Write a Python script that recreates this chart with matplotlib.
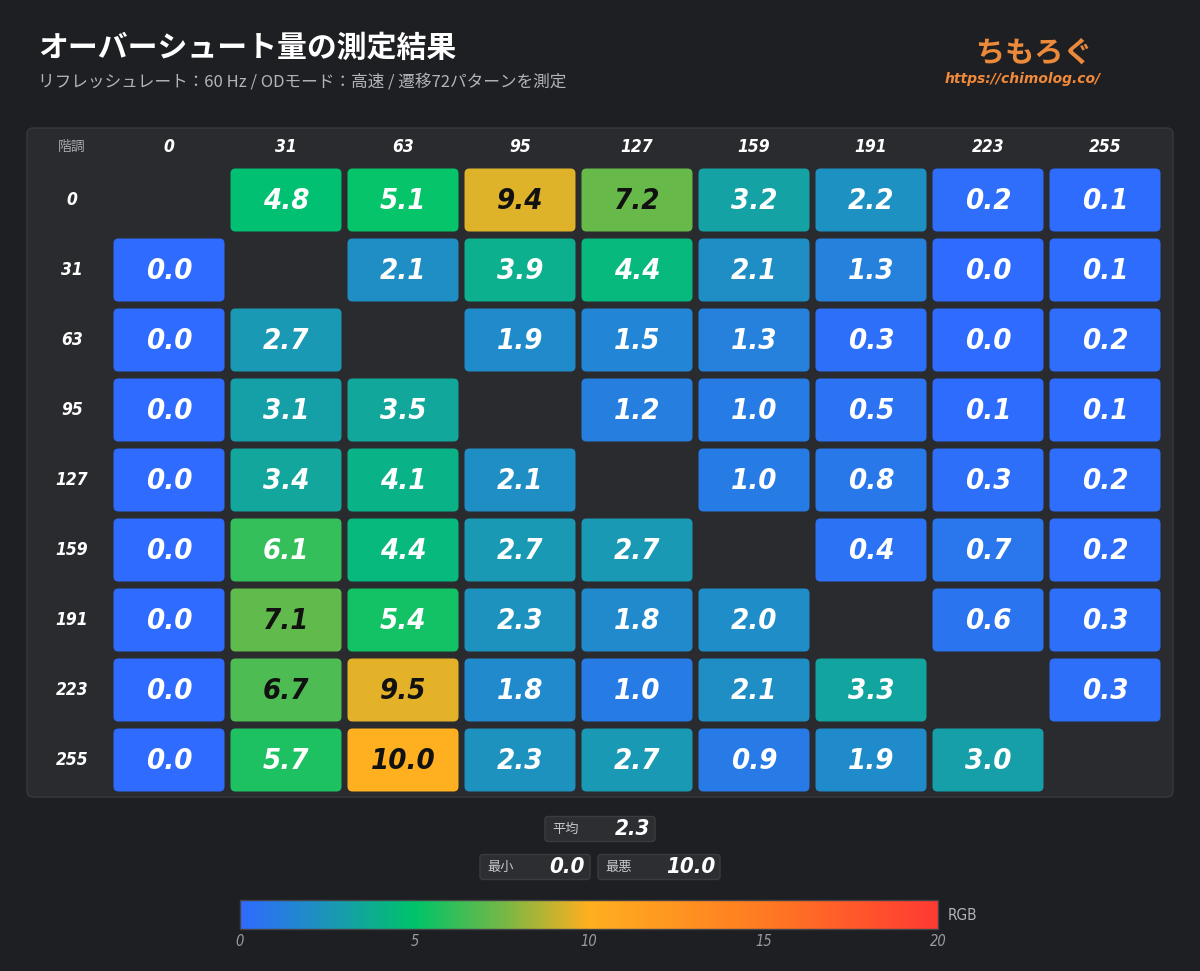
import matplotlib
matplotlib.use("Agg")
import matplotlib.pyplot as plt
import numpy as np
from matplotlib import font_manager
from matplotlib.colors import LinearSegmentedColormap
from matplotlib.patches import FancyBboxPatch, Rectangle

# ── Data ─────────────────────────────────────────────────────────────────────
levels = [0, 31, 63, 95, 127, 159, 191, 223, 255]
nan = np.nan
overshoot = np.array([
    [nan, 4.8, 5.1, 9.4, 7.2, 3.2, 2.2, 0.2, 0.1],
    [0.0, nan, 2.1, 3.9, 4.4, 2.1, 1.3, 0.0, 0.1],
    [0.0, 2.7, nan, 1.9, 1.5, 1.3, 0.3, 0.0, 0.2],
    [0.0, 3.1, 3.5, nan, 1.2, 1.0, 0.5, 0.1, 0.1],
    [0.0, 3.4, 4.1, 2.1, nan, 1.0, 0.8, 0.3, 0.2],
    [0.0, 6.1, 4.4, 2.7, 2.7, nan, 0.4, 0.7, 0.2],
    [0.0, 7.1, 5.4, 2.3, 1.8, 2.0, nan, 0.6, 0.3],
    [0.0, 6.7, 9.5, 1.8, 1.0, 2.1, 3.3, nan, 0.3],
    [0.0, 5.7, 10.0, 2.3, 2.7, 0.9, 1.9, 3.0, nan],
])
cbar_ticks = [0, 5, 10, 15, 20]
vmax = 20

title = "オーバーシュート量の測定結果"
subtitle = "リフレッシュレート：60 Hz / ODモード：高速 / 遷移72パターンを測定"

# ── Fonts / colours ──────────────────────────────────────────────────────────
# look for any condensed face for the numbers, else plain DejaVu
narrow = [f for f in font_manager.fontManager.ttflist
          if str(f.stretch) in ("condensed", "semi-condensed", "extra-condensed")
          or "Condensed" in f.name or "Narrow" in f.name]
NUM = narrow[0].name if narrow else "DejaVu Sans"
NUMKW = dict(family=NUM, fontstretch="condensed")
JP = ["Noto Sans CJK JP", "DejaVu Sans"]
plt.rcParams["font.family"] = JP

BG = "#1e1f23"
PANEL = "#2a2b2f"
cmap = LinearSegmentedColormap.from_list("os", [
    (0.0, "#2f6bff"), (0.125, "#1b96b8"), (0.25, "#00c46a"),
    (0.375, "#74b846"), (0.5, "#ffb020"), (0.75, "#ff7a22"), (1.0, "#ff3a33")])

fig = plt.figure(figsize=(12, 9.71), dpi=100, facecolor=BG)
ax = fig.add_axes([0, 0, 1, 1])
ax.set_xlim(0, 1200)
ax.set_ylim(971, 0)
ax.axis("off")

# ── Title ────────────────────────────────────────────────────────────────────
ax.text(38, 48, title, fontsize=21.5, fontweight="bold", color="white", va="center")
ax.text(38, 82, subtitle, fontsize=12, color="#b4b4b8", va="center")
ax.text(1034, 53, "ちもろぐ", fontsize=21, fontweight="bold", color="#ec8a3c",
        ha="center", va="center")
ax.text(1023, 79, "https://chimolog.co/", fontsize=10, fontweight="bold",
        style="italic", color="#f0893a", ha="center", va="center", family="DejaVu Sans")

# ── Panel ────────────────────────────────────────────────────────────────────
ax.add_patch(FancyBboxPatch((27, 128), 1146, 669, boxstyle="round,pad=0,rounding_size=6",
                            fc=PANEL, ec="#36383c", lw=1))

x0, dx = 169, 117
y0, dy = 200, 70
cw, ch = 111, 63

ax.text(72, 147, "階調", fontsize=10, color="#a8a8ac", ha="center", va="center")
for j, lv in enumerate(levels):
    ax.text(x0 + dx * j, 147, str(lv), fontsize=12.5, fontweight="bold", style="italic",
            color="white", ha="center", va="center", **NUMKW)
for i, lv in enumerate(levels):
    ax.text(72, y0 + dy * i, str(lv), fontsize=12.5, fontweight="bold", style="italic",
            color="white", ha="center", va="center", **NUMKW)

for i in range(len(levels)):
    for j in range(len(levels)):
        v = overshoot[i, j]
        if np.isnan(v):
            continue
        cx, cy = x0 + dx * j, y0 + dy * i
        ax.add_patch(FancyBboxPatch((cx - cw / 2, cy - ch / 2), cw, ch,
                                    boxstyle="round,pad=0,rounding_size=5",
                                    fc=cmap(v / vmax), ec="none"))
        ax.text(cx, cy + 1, f"{v:.1f}", fontsize=21, fontweight="bold", style="italic",
                color="#111111" if v >= 6.5 else "white",
                ha="center", va="center", **NUMKW)

# ── Stats ────────────────────────────────────────────────────────────────────
vals = overshoot[~np.isnan(overshoot)]
stats = [("平均", vals.mean(), 545, 829, 110),
         ("最小", vals.min(), 480, 867, 110),
         ("最悪", vals.max(), 598, 867, 122)]
for lab, v, sx, sy, sw in stats:
    ax.add_patch(FancyBboxPatch((sx, sy - 12.5), sw, 25, boxstyle="round,pad=0,rounding_size=3",
                                fc="#2c2e32", ec="#3a3c40", lw=1))
    ax.text(sx + 7, sy, lab, fontsize=9.5, color="#c8c8cc", va="center")
    ax.text(sx + sw - 5, sy, f"{v:.1f}", fontsize=16, fontweight="bold", style="italic",
            color="white", ha="right", va="center", **NUMKW)

# ── Colour bar ───────────────────────────────────────────────────────────────
cb_x0, cb_x1, cb_y, cb_h = 240, 938, 900, 29
grad = np.linspace(0, 1, 512)[None, :]
ax.imshow(grad, cmap=cmap, aspect="auto", extent=(cb_x0, cb_x1, cb_y + cb_h, cb_y), zorder=2)
ax.add_patch(Rectangle((cb_x0, cb_y), cb_x1 - cb_x0, cb_h, fc="none", ec="#444448",
                       lw=1, zorder=3))
for t in cbar_ticks:
    ax.text(cb_x0 + (cb_x1 - cb_x0) * t / vmax, 942, str(t), fontsize=10.5, style="italic",
            color="#9a9aa0", ha="center", va="center", **NUMKW)
ax.text(948, 915, "RGB", fontsize=11, color="#b4b4b8", va="center", **NUMKW)

fig.savefig("out.png", dpi=100, facecolor=BG)
